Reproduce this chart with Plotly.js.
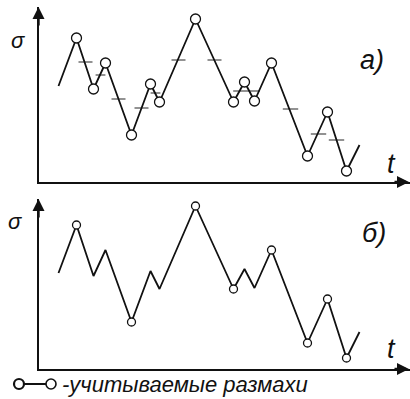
<!DOCTYPE html>
<html>
<head>
<meta charset="utf-8">
<script src="https://cdn.plot.ly/plotly-3.0.1.min.js"></script>
<style>
  html, body { margin: 0; padding: 0; background: #fff; }
  #chart { width: 410px; height: 399px; }
</style>
</head>
<body>
<div id="chart"></div>
<script>
// Stress process σ(t): time and stress at the start, every reversal and the end
const t     = [20, 38, 55, 67, 93, 112, 121, 157, 195, 206, 216, 233, 269, 289, 308, 321];
const sigma = [96, 144, 93, 119, 47, 98, 80, 163, 80, 100, 81, 119, 26, 70, 11, 37];

// (а) every reversal is marked
const circlesA = [1, 2, 3, 4, 5, 6, 7, 8, 9, 10, 11, 12, 13, 14];
// (б) only the reversals of the ranges that are counted
const circlesB = [1, 4, 7, 8, 11, 12, 13, 14];

// (а) half-range marks on the branches
const dashT = [47, 62, 80, 103, 117, 140, 176, 208, 252, 280, 298];
const dashS = [120, 107, 83, 74, 89, 122, 122, 91, 73, 48, 42];
const dashLen = [10, 7, 10, 10, 7, 10, 10, 19, 11, 11, 11];

const labelA = 'а)';
const labelB = 'б)';
const axisY = 'σ';
const axisX = 't';
const legendText = '-учитываемые размахи';

// page geometry in pixels
const W = 410, H = 399;
const px = x => x / W;
const py = y => 1 - y / H;

const ink = '#111';
const hand = 'Liberation Sans, DejaVu Sans, sans-serif';

function pick(arr, idx) { return idx.map(i => arr[i]); }

const traces = [
  { x: t, y: sigma, xaxis: 'x', yaxis: 'y', mode: 'lines',
    line: { color: ink, width: 1.8 }, hoverinfo: 'skip' },
  { x: dashT, y: dashS, xaxis: 'x', yaxis: 'y', mode: 'markers',
    marker: { symbol: 'line-ew', size: dashLen, line: { color: ink, width: 1.3 } },
    hoverinfo: 'skip' },
  { x: pick(t, circlesA), y: pick(sigma, circlesA), xaxis: 'x', yaxis: 'y', mode: 'markers',
    marker: { symbol: 'circle', size: 10, color: '#fff', line: { color: ink, width: 1.3 } },
    hoverinfo: 'skip' },
  { x: t, y: sigma, xaxis: 'x2', yaxis: 'y2', mode: 'lines',
    line: { color: ink, width: 1.8 }, hoverinfo: 'skip' },
  { x: pick(t, circlesB), y: pick(sigma, circlesB), xaxis: 'x2', yaxis: 'y2', mode: 'markers',
    marker: { symbol: 'circle', size: 8, color: '#fff', line: { color: ink, width: 1.3 } },
    hoverinfo: 'skip' }
];

const axBase = {
  showline: true, linecolor: ink, linewidth: 1.6,
  showgrid: false, zeroline: false, ticks: '', showticklabels: false, fixedrange: true
};

function label(x, y, text, size, anchor) {
  return { xref: 'paper', yref: 'paper', x: px(x), y: py(y), text: '<i>' + text + '</i>',
           showarrow: false, xanchor: anchor || 'center', yanchor: 'middle',
           font: { family: hand, size: size, color: ink } };
}

function arrow(x, y, ax, ay) {
  return { xref: 'paper', yref: 'paper', x: px(x), y: py(y), ax: ax, ay: ay, text: '',
           showarrow: true, arrowhead: 2, arrowsize: 1, arrowwidth: 2.4, arrowcolor: ink };
}

const layout = {
  width: W, height: H,
  margin: { l: 0, r: 0, t: 0, b: 0 },
  paper_bgcolor: '#fff', plot_bgcolor: 'rgba(0,0,0,0)',
  showlegend: false,
  xaxis:  Object.assign({}, axBase, { domain: [px(38.5), 1], range: [0, 371.5], anchor: 'y' }),
  yaxis:  Object.assign({}, axBase, { domain: [py(182), py(7)], range: [0, 175], anchor: 'x' }),
  xaxis2: Object.assign({}, axBase, { domain: [px(38.5), 1], range: [0, 371.5], anchor: 'y2' }),
  yaxis2: Object.assign({}, axBase, { domain: [py(369), py(199)], range: [0, 170], anchor: 'x2' }),
  annotations: [
    // axis arrowheads
    arrow(38.5, 7, 0, 20),
    arrow(409, 182, -16, 0),
    arrow(38.5, 199, 0, 20),
    arrow(409, 369, -16, 0),
    // axis names and panel letters
    label(18, 40, axisY, 22),
    label(15, 221, axisY, 22),
    label(372, 60, labelA, 27),
    label(374, 233, labelB, 27),
    label(391, 164, axisX, 27),
    label(391, 349, axisX, 27),
    // key
    label(60, 384, legendText, 22, 'left')
  ],
  shapes: [
    { type: 'line', xref: 'paper', yref: 'paper', x0: px(24), x1: px(46), y0: py(384), y1: py(384),
      line: { color: ink, width: 2 } },
    { type: 'circle', xref: 'paper', yref: 'paper', x0: px(14), x1: px(24), y0: py(389), y1: py(379),
      fillcolor: '#fff', line: { color: ink, width: 2.2 } },
    { type: 'circle', xref: 'paper', yref: 'paper', x0: px(46), x1: px(56), y0: py(389), y1: py(379),
      fillcolor: '#fff', line: { color: ink, width: 1.6 } }
  ]
};

Plotly.newPlot('chart', traces, layout, { displayModeBar: false, staticPlot: true });
</script>
</body>
</html>
